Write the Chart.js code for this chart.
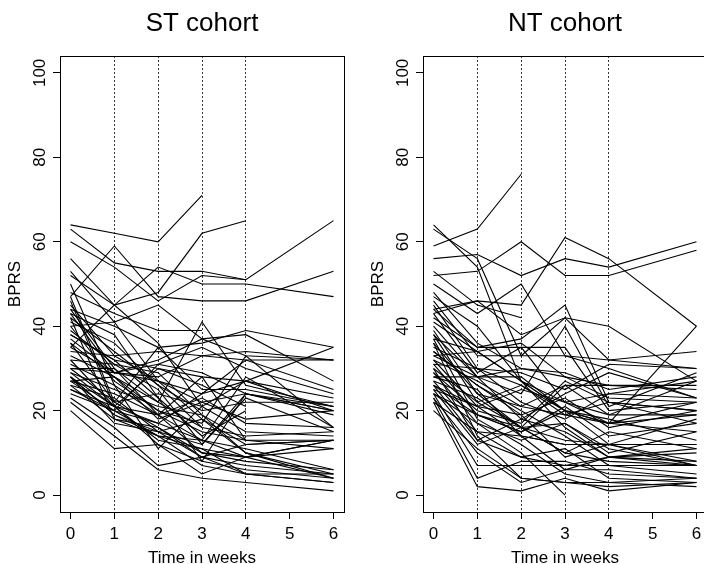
<!DOCTYPE html>
<html>
<head>
<meta charset="utf-8">
<script src="https://cdn.jsdelivr.net/npm/chart.js@4.4.1/dist/chart.umd.min.js"></script>
<style>
  body { margin: 0; width: 704px; height: 564px; overflow: hidden; background: #fff; position: relative; }
  canvas { position: absolute; top: 0; }
  #stChart { left: 0; }
  #ntChart { left: 363px; }
</style>
</head>
<body>
<canvas id="stChart" width="404" height="564"></canvas>
<canvas id="ntChart" width="404" height="564"></canvas>
<script>
// weeks measured, and tick labels
const weeks = [0, 1, 2, 3, 4, 6];
const xTicks = [0, 1, 2, 3, 4, 5, 6];
const yTicks = [0, 20, 40, 60, 80, 100];
const dottedWeeks = [1, 2, 3, 4];

// BPRS per subject, columns = weeks 0,1,2,3,4,6 (null = dropped out)
const stRows = [
  [64, 62, 60, 71, null, null],
  [52, 45, 48, 62, 65, null],
  [63, 55, 53, 53, 51, 65],
  [60, 54, 46, 52, 51, null],
  [56, 45, 54, 50, 50, 47],
  [47, 59, 47, 46, 46, 53],
  [48, 43, 39, 39, null, null],
  [53, 41, 45, 37, 38, 27],
  [44, 40, 35, 36, 39, 35],
  [45, 33, 34, 33, 32, 32],
  [43, 29, 28, 33, 34, 32],
  [40, 41, 27, 24, 32, 25],
  [38, 32, 30, 28, 27, 23],
  [44, 30, 22, 41, 26, 21],
  [42, 34, 26, 20, 22, 22],
  [37, 29, 31, 29, 24, 20],
  [36, 22, 35, 25, 25, 21],
  [40, 27, 20, 17, 33, 16],
  [35, 29, 27, 22, 18, 20],
  [33, 28, 18, 22, 24, 19],
  [32, 31, 25, 12, 23, 15],
  [30, 22, 24, 21, 15, 14],
  [29, 21, 19, 28, 13, 13],
  [28, 19, 15, 18, 12, 13],
  [28, 21, 13, 11, 9, 13],
  [27, 20, 17, 13, 9, 11],
  [27, 24, 19, 10, 8, 6],
  [26, 18, 16, 9, 7, 5],
  [25, 21, 12, 8, 6, 4],
  [24, 20, 14, 7, 5, 3],
  [23, 16, 7, 9, 5, 5],
  [22, 14, 6, 4, 3, 1],
  [20, 11, 12, 5, 9, 4],
  [31, 26, 19, 13, 11, 6],
  [38, 32, 23, 14, 20, null],
  [46, 21, 30, 26, 21, null],
  [50, 26, 11, 21, null, null],
  [41, 36, 26, 16, null, null],
  [35, 45, 36, 21, 27, 20],
  [30, 30, 19, 23, 17, 16],
  [27, 28, 22, 16, 14, 15],
  [29, 25, 21, 19, 10, 4],
  [26, 23, 15, 12, 24, 20],
  [43, 38, 23, 8, 24, 21],
  [39, 31, 29, 19, 13, null],
  [28, 19, 14, 11, 5, 3],
  [34, 33, 27, 18, 10, 5],
  [47, 22, 16, 10, 9, 13],
  [25, 20, 31, 35, 30, 24],
  [36, 28, 20, 15, 13, 11],
  [28, 17, 15, 9, 12, 13],
  [42, 18, 14, 13, 28, 16],
  [30, 29, 32, 37, 33, 32],
  [32, 21, 17, 24, 27, 35]
];

const ntRows = [
  [59, 63, 76, null, null, null],
  [64, 54, 27, 20, 17, 19],
  [63, 56, 33, 42, 40, 27],
  [56, 57, 52, 56, 54, 60],
  [52, 53, 60, 52, 52, 58],
  [44, 46, 45, 61, 56, 40],
  [53, 45, 42, null, null, null],
  [50, 43, 50, 33, 30, 23],
  [43, 46, 38, 42, 32, 34],
  [42, 35, 37, 45, 22, 20],
  [44, 35, 35, 35, 20, 22],
  [46, 33, 33, 33, 32, 30],
  [40, 28, 24, 40, 21, 29],
  [37, 34, 27, 22, 19, 27],
  [38, 28, 30, 28, 26, 26],
  [36, 24, 16, 26, 26, 25],
  [33, 28, 18, 24, 29, 23],
  [35, 30, 26, 19, 17, 22],
  [32, 21, 19, 23, 16, 20],
  [31, 19, 15, 21, 14, 17],
  [30, 22, 26, 20, 12, 18],
  [29, 20, 17, 27, 22, 20],
  [28, 28, 28, 20, 17, 40],
  [27, 15, 14, 12, 12, 12],
  [26, 13, 18, 15, 9, 11],
  [25, 12, 16, 10, 8, 7],
  [24, 7, 7, 7, 7, 7],
  [23, 4, 8, 8, 5, 4],
  [22, 2, 1, 4, 1, 3],
  [20, 11, 4, 3, 3, 2],
  [24, 17, 10, 0, null, null],
  [25, 21, 14, 12, 12, 7],
  [26, 19, 16, 17, 10, 15],
  [28, 25, 14, 6, 9, 8],
  [30, 13, 9, 11, 4, 3],
  [34, 26, 20, 14, 7, 5],
  [37, 18, 12, 5, 3, 4],
  [36, 14, 4, 3, 2, 3],
  [41, 34, 27, 16, 9, 7],
  [45, 30, 22, 18, 24, 27],
  [39, 24, 21, 26, 19, 19],
  [27, 23, 16, 10, 15, 11],
  [31, 30, 29, 25, 31, 30],
  [24, 19, 15, 20, 18, 13],
  [32, 27, 21, 19, 22, 17],
  [29, 17, 13, 17, 11, 7],
  [23, 10, 3, 6, 6, 4],
  [26, 21, 25, 22, 24, 23],
  [34, 26, 19, 9, 12, 8],
  [47, 40, 27, 20, null, null],
  [48, 36, 30, 29, 25, 28],
  [33, 34, 36, 28, 23, 22],
  [38, 22, 16, 13, 12, 12],
  [43, 29, 35, 22, 17, 15],
  [22, 15, 9, 7, 9, 10]
];

const FONT = "'Liberation Sans', Arial, Helvetica, sans-serif";

// R style box round the plot region
const boxPlugin = {
  id: 'rbox',
  afterDraw(chart) {
    const a = chart.chartArea;
    const ctx = chart.ctx;
    ctx.save();
    ctx.strokeStyle = '#000';
    ctx.lineWidth = 1;
    ctx.strokeRect(Math.round(a.left) + 0.5, Math.round(a.top) + 0.5,
                   Math.round(a.right - a.left), Math.round(a.bottom - a.top));
    ctx.restore();
  }
};

function toDatasets(rows) {
  return rows.map(r => ({
    data: weeks.map((w, i) => ({ x: w, y: r[i] })),
    borderColor: '#000',
    borderWidth: 1.1,
    pointRadius: 0,
    fill: false,
    tension: 0,
    spanGaps: false
  }));
}

function makeChart(id, title, rows) {
  const ctx = document.getElementById(id).getContext('2d');
  return new Chart(ctx, {
    type: 'line',
    data: { datasets: toDatasets(rows) },
    options: {
      responsive: false,
      animation: false,
      devicePixelRatio: 1,
      layout: { padding: 0 },
      plugins: {
        legend: { display: false },
        tooltip: { enabled: false },
        title: {
          display: true,
          text: title,
          color: '#000',
          font: { family: FONT, size: 26, weight: 'normal', lineHeight: 1.2 },
          padding: { top: 8, bottom: 16.8 }
        }
      },
      scales: {
        x: {
          type: 'linear',
          min: -0.24,
          max: 6.24,
          afterBuildTicks: s => { s.ticks = xTicks.map(v => ({ value: v })); },
          afterFit: s => { s.height = 52; },
          grid: {
            color: c => (c.tick && dottedWeeks.includes(c.tick.value)) ? '#000' : 'rgba(0,0,0,0)',
            lineWidth: 0.8,
            tickColor: '#000',
            tickLength: 7,
            tickWidth: 1,
            tickBorderDash: []
          },
          border: { display: false, dash: [2, 2] },
          ticks: {
            color: '#000',
            font: { family: FONT, size: 17 },
            padding: 5,
            maxRotation: 0,
            callback: v => String(v)
          },
          title: {
            display: true,
            text: 'Time in weeks',
            color: '#000',
            font: { family: FONT, size: 17 },
            padding: { top: 0, bottom: -5 }
          }
        },
        y: {
          min: -4,
          max: 104,
          afterBuildTicks: s => { s.ticks = yTicks.map(v => ({ value: v })); },
          afterFit: s => { s.width = 60; },
          grid: {
            color: 'rgba(0,0,0,0)',
            tickColor: '#000',
            tickLength: 7,
            tickWidth: 1
          },
          border: { display: false },
          ticks: {
            color: '#000',
            font: { family: FONT, size: 17 },
            padding: -1,
            minRotation: 90,
            maxRotation: 90,
            crossAlign: 'center',
            callback: v => String(v)
          },
          title: {
            display: true,
            text: 'BPRS',
            color: '#000',
            font: { family: FONT, size: 17 },
            padding: { top: 5, bottom: 0 }
          }
        },
        yRight: {
          position: 'right',
          display: true,
          afterFit: s => { s.width = 60; },
          grid: { display: false, drawTicks: false },
          border: { display: false },
          ticks: { display: false }
        }
      }
    },
    plugins: [boxPlugin]
  });
}

makeChart('stChart', 'ST cohort', stRows);
makeChart('ntChart', 'NT cohort', ntRows);
</script>
</body>
</html>
